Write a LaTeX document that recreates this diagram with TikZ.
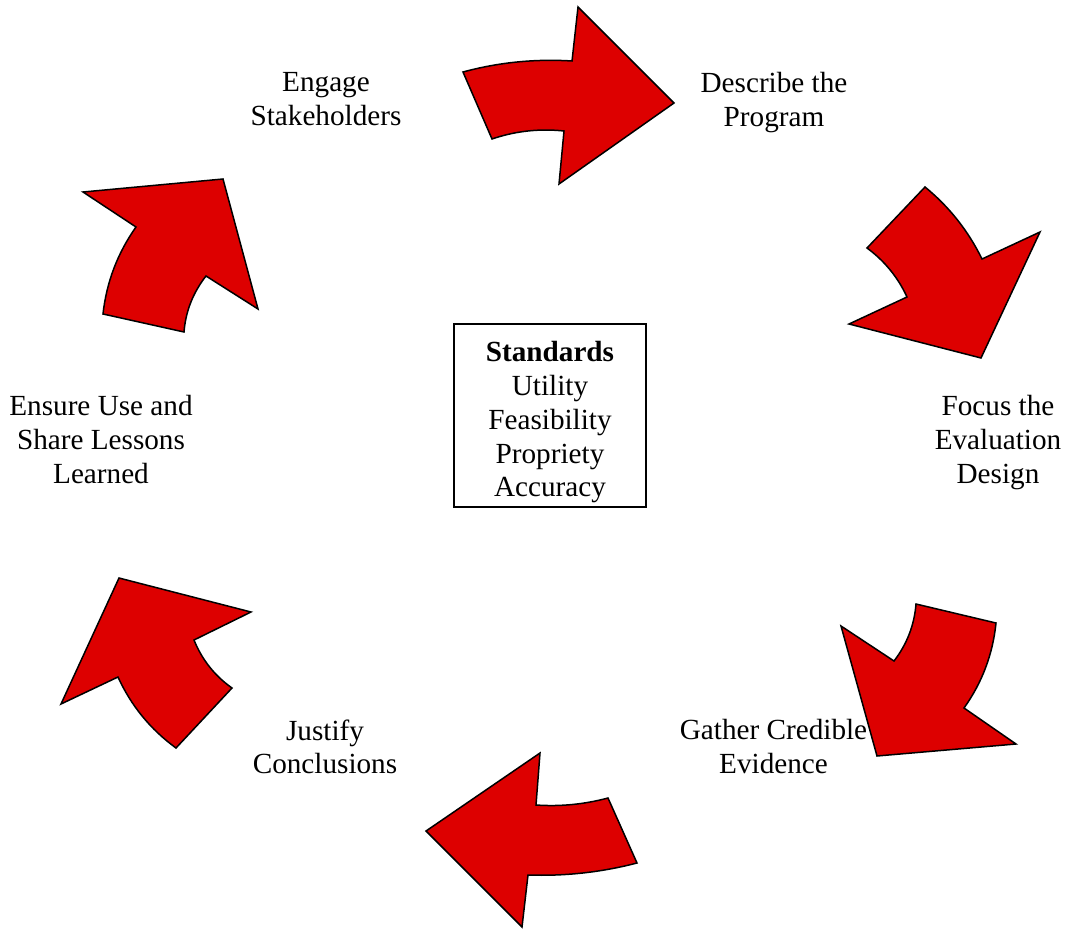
\documentclass[tikz,border=0pt]{standalone}
\usepackage{fontspec}
\setmainfont{Liberation Serif}
\definecolor{arrowred}{RGB}{221,0,0}
\tikzset{
  redarrow/.style={fill=arrowred,draw=black,line width=1.5pt,line join=miter},
  steptext/.style={align=center,inner sep=0pt,font=\fontsize{29.2}{33.7}\selectfont}
}
\begin{document}
\begin{tikzpicture}[x=1pt,y=-1pt]
\useasboundingbox (0,0) rectangle (1067,928);
% the six arrows, clockwise from the top
\draw[redarrow] (463,72) .. controls (498.7,62.3) and (535.1,58.7) .. (572,61) -- (578,7) -- (674,103)
  -- (559,184) -- (564,131) .. controls (539.4,128.4) and (515.4,131) .. (492,139) -- cycle;
\draw[redarrow] (925,187) .. controls (949.2,206.8) and (968.2,230.8) .. (982,259) -- (1040,232) -- (981,358)
  -- (849,324) -- (907,297) .. controls (897.9,277.3) and (884.5,260.9) .. (867,248) -- cycle;
\draw[redarrow] (996,623) .. controls (992.8,654.1) and (982.2,682.5) .. (964,708) -- (1016,744) -- (877,756)
  -- (841,626) -- (894,661) .. controls (906.9,644.2) and (914.3,625.2) .. (916,604) -- cycle;
\draw[redarrow] (608,798) .. controls (584.4,804.3) and (560.4,806.7) .. (536,805) -- (540,753) -- (426,831)
  -- (522,927) -- (528,875) .. controls (564.9,876.3) and (601.3,872.3) .. (637,863) -- cycle;
\draw[redarrow] (232,688) .. controls (214.6,675.7) and (202,659.7) .. (194,640) -- (251,612) -- (119,578)
  -- (61,704) -- (118,677) .. controls (131.1,705.8) and (150.5,729.4) .. (176,748) -- cycle;
\draw[redarrow] (103,314) .. controls (106.5,282.2) and (117.5,253.2) .. (136,227) -- (83,192) -- (223,179)
  -- (258,309) -- (206,276) .. controls (193.1,292.5) and (185.7,311.1) .. (184,332) -- cycle;
% step labels
\node[steptext] (engage) at (326,99.2) {Engage\\Stakeholders};
\node[steptext] (describe) at (774,102.2) {Describe the\\Program};
\node[steptext] (focus) at (998,442.7) {Focus the\\Evaluation\\Design};
\node[steptext] (gather) at (773.5,746.3) {Gather Credible\\Evidence};
\node[steptext] (justify) at (325,747) {Justify\\Conclusions};
\node[steptext] (ensure) at (101,439.5) {Ensure Use and\\Share Lessons\\Learned};
% standards in the middle
\node[draw,line width=1.2pt,minimum width=192,minimum height=183,inner sep=0pt] (stdbox) at (550,415.5) {};
\node[steptext] (standards) at (550,422.4) {\textbf{Standards}\\Utility\\Feasibility\\Propriety\\Accuracy};
\end{tikzpicture}
\end{document}
